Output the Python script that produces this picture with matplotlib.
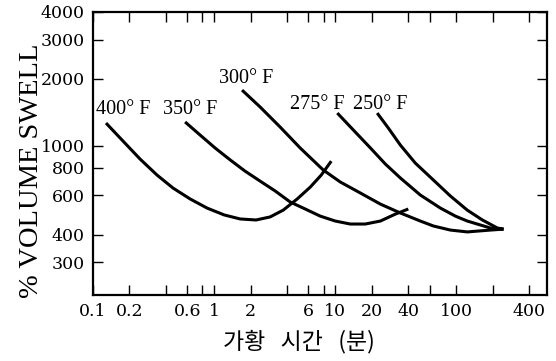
import matplotlib
matplotlib.use("Agg")
import matplotlib.pyplot as plt
from matplotlib.ticker import FixedLocator, NullLocator

# curves: cure time (min) vs % volume swell
t400 = [0.128, 0.177, 0.245, 0.338, 0.458, 0.634, 0.875, 1.21, 1.64, 2.22, 2.90, 3.72,
        4.85, 6.21, 7.66, 9.27]
s400 = [1268, 1052, 873, 740, 647, 578, 526, 490, 470, 465, 480, 515, 578, 653, 740, 855]
t350 = [0.576, 0.766, 1.02, 1.36, 1.80, 2.40, 3.19, 4.25, 5.65, 7.52, 10.0, 13.3, 17.7,
        23.6, 31.3, 40.1]
s350 = [1282, 1120, 979, 865, 771, 695, 628, 560, 521, 484, 460, 446, 446, 460, 494, 521]
t300 = [1.70, 2.40, 3.51, 5.14, 7.96, 11.0, 16.1, 23.6, 34.5, 50.4, 64.6, 89.2, 123, 191, 245]
s300 = [1783, 1496, 1216, 979, 780, 689, 615, 548, 500, 460, 437, 419, 411, 419, 423]
t275 = [10.4, 14.1, 19.5, 25.9, 34.5, 50.4, 73.8, 98.2, 123, 191, 245]
s275 = [1406, 1180, 980, 830, 718, 602, 526, 484, 460, 428, 423]
t250 = [22.2, 27.4, 34.5, 45.8, 64.6, 89.2, 123, 164, 218, 245]
s250 = [1406, 1205, 1009, 838, 703, 596, 515, 465, 428, 423]

curves = [("400° F", t400, s400), ("350° F", t350, s350), ("300° F", t300, s300),
          ("275° F", t275, s275), ("250° F", t250, s250)]
label_pos = [(0.177, 1452), (0.634, 1452), (1.84, 2000), (7.1, 1544), (23.6, 1544)]

xticks = [0.1, 0.2, 0.4, 0.6, 0.8, 1, 2, 4, 6, 8, 10, 20, 40, 60, 100, 200, 400]
xlabeled = ["0.1", "0.2", "0.6", "1", "2", "6", "10", "20", "40", "100", "400"]
yticks = [300, 400, 600, 800, 1000, 2000, 3000, 4000]

fig = plt.figure(figsize=(5.56, 3.61), dpi=100)
ax = fig.add_axes([93 / 556, 1 - 295 / 361, 454 / 556, 283 / 361])

for (name, t, s), (lx, ly) in zip(curves, label_pos):
    ax.plot(t, s, color="black", lw=2.2, solid_capstyle="butt", solid_joinstyle="round")
    ax.text(lx, ly, name, ha="center", va="center", fontsize=14.5,
            family="Liberation Serif")

ax.set_xscale("log"); ax.set_yscale("log")
ax.set_xlim(0.1, 560); ax.set_ylim(214, 4000)

ax.xaxis.set_major_locator(FixedLocator(xticks))
ax.xaxis.set_minor_locator(NullLocator())
ax.set_xticklabels([f"{v:g}" if f"{v:g}" in xlabeled else "" for v in xticks])
ax.yaxis.set_major_locator(FixedLocator(yticks))
ax.yaxis.set_minor_locator(NullLocator())
ax.set_yticklabels([str(v) for v in yticks])

ax.tick_params(which="both", direction="in", top=True, right=True,
               length=7.5, width=1.0, labelsize=12.5, pad=6)
for lab in ax.get_xticklabels() + ax.get_yticklabels():
    lab.set_family("DejaVu Serif")
for sp in ax.spines.values():
    sp.set_linewidth(1.6)

ax.set_ylabel("% VOLUME SWELL", fontsize=20.5, family="Liberation Serif", va="center")
ax.yaxis.set_label_coords(-0.135, 0.438)
ax.set_xlabel("가황   시간   (분)", fontsize=16.5, family=["Noto Sans CJK KR", "DejaVu Sans"],
              va="center")
ax.xaxis.set_label_coords(0.454, -0.166)

fig.savefig("out.png", dpi=100)
